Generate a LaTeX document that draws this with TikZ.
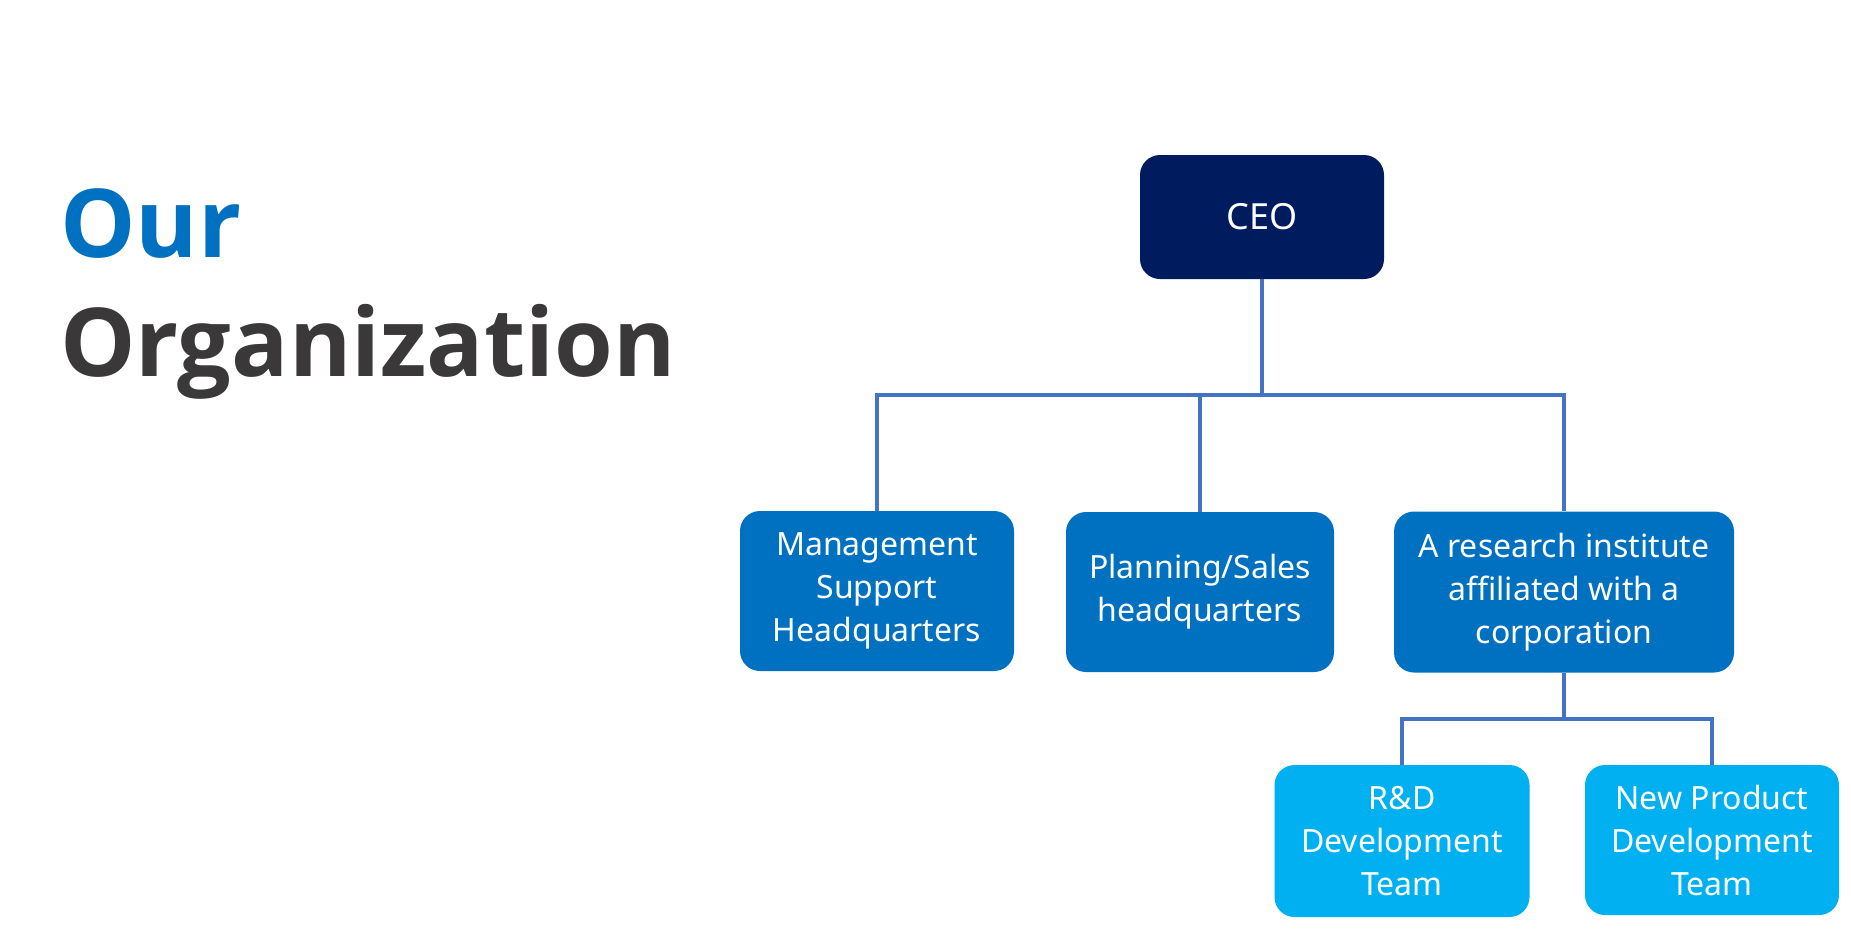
\documentclass[tikz,border=0pt]{standalone}
\usepackage{fontspec}
\setmainfont{Noto Sans}
\newfontfamily\titlefont{Open Sans}
\definecolor{navy}{RGB}{0,28,94}
\definecolor{midblue}{RGB}{0,112,192}
\definecolor{skyblue}{RGB}{0,176,240}
\definecolor{linkblue}{RGB}{68,114,196}
\definecolor{titlegray}{RGB}{58,56,56}
\tikzset{
  orgbox/.style={rounded corners=10pt, text=white, align=center, inner sep=0pt,
    font=\fontsize{16}{21.5}\selectfont},
  link/.style={draw=linkblue, line width=1.6pt}
}
\begin{document}
\begin{tikzpicture}[x=0.5pt,y=0.5pt,yscale=-1,xscale=1]
\useasboundingbox (0,0) rectangle (1851,934);

% Title
\node (our) [anchor=base west, text=midblue, font=\titlefont\fontsize{47.5}{56}\selectfont\bfseries] at (53,257) {Our};
\node (orgtitle) [anchor=base west, text=titlegray, font=\titlefont\fontsize{47.5}{56}\selectfont\bfseries] at (53,376) {Organization};

% Boxes
\node (ceo) [orgbox, fill=navy, minimum width=122pt, minimum height=62pt, font=\fontsize{18}{22}\selectfont] at (1262,217) {CEO};
\node (mgmt) [orgbox, fill=midblue, minimum width=137pt, minimum height=80pt] at (877,591) {Management\\Support\\Headquarters};
\node (plan) [orgbox, fill=midblue, minimum width=134pt, minimum height=80pt] at (1200,592) {Planning/Sales\\headquarters};
\node (lab) [orgbox, fill=midblue, minimum width=170pt, minimum height=80.5pt] at (1564,592) {A research institute\\affiliated with a\\corporation};
\node (rnd) [orgbox, fill=skyblue, minimum width=127.5pt, minimum height=76pt] at (1402,841) {R\&D\\Development\\Team};
\node (newprod) [orgbox, fill=skyblue, minimum width=127pt, minimum height=75pt] at (1712,840) {New Product\\Development\\Team};

% Connectors
\coordinate (bus) at (1262,395);
\coordinate (subbus) at (1564,719);
\draw [link] (ceo.south) -- (bus);
\draw [link] (mgmt.north) |- (bus) -| (lab.north);
\draw [link] (plan.north) -- (plan.north |- bus);
\draw [link] (lab.south) -- (subbus);
\draw [link] (rnd.north) |- (subbus) -| (newprod.north);

\end{tikzpicture}
\end{document}
